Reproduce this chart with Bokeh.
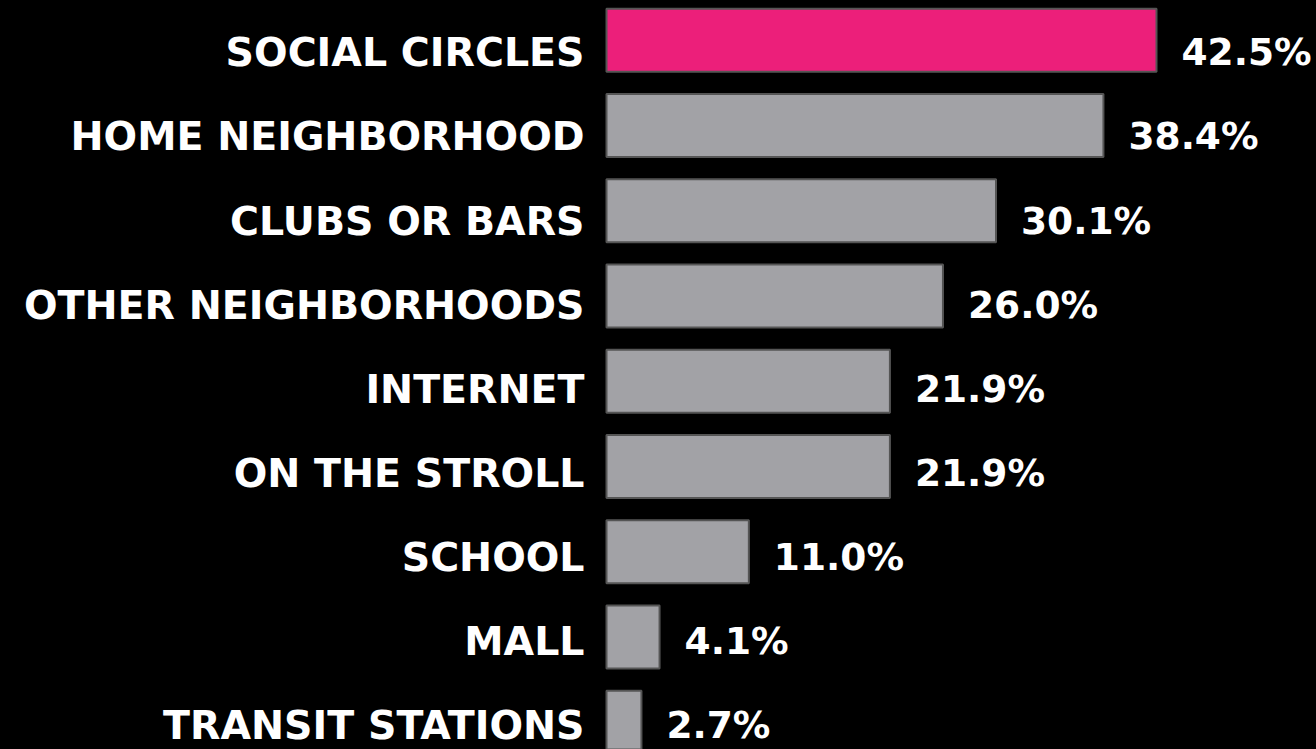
from bokeh.plotting import figure
from bokeh.models import ColumnDataSource, Range1d
from bokeh.core.properties import value
from bokeh.embed import file_html
from bokeh.resources import INLINE

categories = ["SOCIAL CIRCLES", "HOME NEIGHBORHOOD", "CLUBS OR BARS", "OTHER NEIGHBORHOODS",
              "INTERNET", "ON THE STROLL", "SCHOOL", "MALL", "TRANSIT STATIONS"]
values = [42.5, 38.4, 30.1, 26.0, 21.9, 21.9, 11.0, 4.1, 2.7]
value_labels = ["42.5%", "38.4%", "30.1%", "26.0%", "21.9%", "21.9%", "11.0%", "4.1%", "2.7%"]
colors = ["#EC1F7A"] + ["#A2A2A6"] * 8

W, H = 1316, 749
px_per_unit_x = 550 / 42.5
zero_px = 606
px_per_row = 85.25
first_center = 39.8

x_start = -zero_px / px_per_unit_x
x_end = (W - zero_px) / px_per_unit_x
y_end = first_center / px_per_row
y_start = y_end - H / px_per_row

n = len(categories)
ypos = [-i for i in range(n)]
text_dy = [12 - 1.15 * i for i in range(n)]
src = ColumnDataSource(dict(y=ypos, v=values, cat=categories, lab=value_labels, c=colors,
                            zero=[0] * n, dy=text_dy))

p = figure(width=W, height=H, output_backend="svg", toolbar_location=None,
           x_range=Range1d(x_start, x_end), y_range=Range1d(y_start, y_end),
           min_border=0, background_fill_color="black", border_fill_color="black")
p.axis.visible = False
p.grid.visible = False
p.outline_line_color = None

p.hbar(y="y", left="zero", right="v", height=63 / px_per_row, fill_color="c",
       line_color="#555555", line_width=2, source=src)

p.text(x="zero", y="y", text="cat", source=src, text_align="right", text_baseline="middle",
       x_offset=-22, y_offset="dy", text_color="white", text_font=value("DejaVu Sans"),
       text_font_style="bold", text_font_size="39.5px")
p.text(x="v", y="y", text="lab", source=src, text_align="left", text_baseline="middle",
       x_offset=25, y_offset="dy", text_color="white", text_font=value("DejaVu Sans"),
       text_font_style="bold", text_font_size="37.5px")

html = file_html(p, INLINE)
html = html.replace("<head>", "<head><style>html,body{background:#000;}</style>", 1)
open("out.html", "w").write(html)
